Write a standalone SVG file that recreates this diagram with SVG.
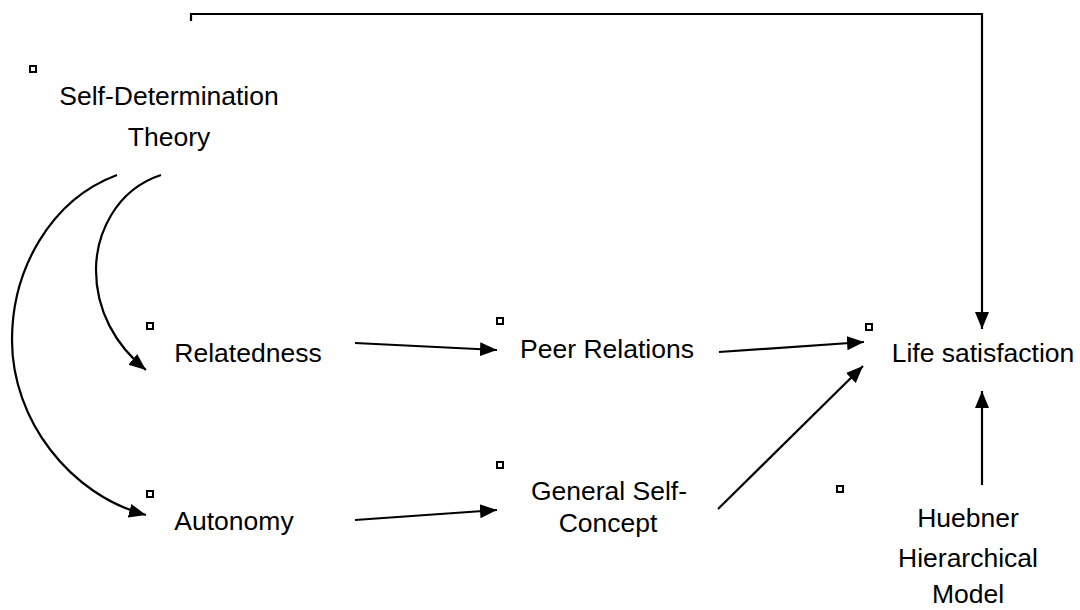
<svg xmlns="http://www.w3.org/2000/svg" width="1080" height="610" viewBox="0 0 1080 610">
<style>
  .lbl { font-family: "Liberation Sans", Arial, sans-serif; font-size: 26.5px; fill: #000; text-anchor: middle; }
  .mk { fill: #fff; stroke: #000; stroke-width: 2; }
  .conn { fill: none; stroke: #000; stroke-width: 2.2; marker-end: url(#arr); }
</style>
<defs>
  <marker id="arr" markerUnits="userSpaceOnUse" markerWidth="18" markerHeight="16" refX="17" refY="8" orient="auto">
    <path d="M0,1 L17,8 L0,15 z" fill="#000"/>
  </marker>
</defs>
<rect width="1080" height="610" fill="#fff"/>
<g id="connectors">
  <path class="conn" d="M191 21 L191 14 L982 14 L982 329"/>
  <path class="conn" d="M161 175 C 115 190, 96 235, 96 270 C 96 310, 115 345, 146 370"/>
  <path class="conn" d="M117 175 C 50 200, 12 270, 12 340 C 12 420, 70 495, 146 515"/>
  <path class="conn" d="M355 343 L497 350"/>
  <path class="conn" d="M355 520 L497 510"/>
  <path class="conn" d="M719 352 L864 342"/>
  <path class="conn" d="M718 509 L863 366"/>
  <path class="conn" d="M982 485 L982 391"/>
</g>
<g id="node-sdt">
  <rect class="mk" x="30" y="66" width="6" height="6"/>
  <text class="lbl" x="169" y="105">Self-Determination</text>
  <text class="lbl" x="169" y="146">Theory</text>
</g>
<g id="node-relatedness">
  <rect class="mk" x="147" y="323" width="6" height="6"/>
  <text class="lbl" x="248" y="362">Relatedness</text>
</g>
<g id="node-autonomy">
  <rect class="mk" x="147" y="491" width="6" height="6"/>
  <text class="lbl" x="234" y="530">Autonomy</text>
</g>
<g id="node-peer">
  <rect class="mk" x="497" y="318" width="6" height="6"/>
  <text class="lbl" x="607" y="358">Peer Relations</text>
</g>
<g id="node-gsc">
  <rect class="mk" x="497" y="462" width="6" height="6"/>
  <text class="lbl" x="609" y="500">General Self-</text>
  <text class="lbl" x="608" y="532">Concept</text>
</g>
<g id="node-life">
  <rect class="mk" x="866" y="324" width="6" height="6"/>
  <text class="lbl" x="983" y="362">Life satisfaction</text>
</g>
<g id="node-huebner">
  <rect class="mk" x="837" y="486" width="6" height="6"/>
  <text class="lbl" x="968" y="527">Huebner</text>
  <text class="lbl" x="968" y="567">Hierarchical</text>
  <text class="lbl" x="968" y="603">Model</text>
</g>
</svg>
